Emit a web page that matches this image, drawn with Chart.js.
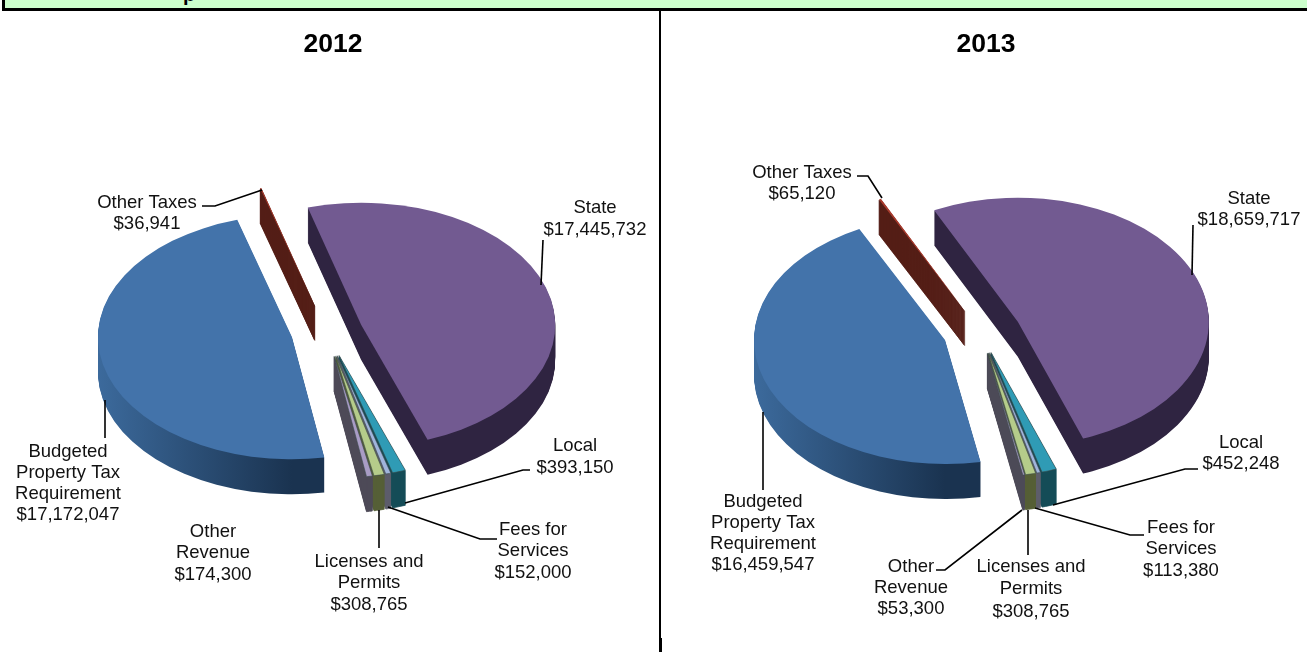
<!DOCTYPE html>
<html><head><meta charset="utf-8">
<script src="https://cdn.jsdelivr.net/npm/chart.js@4"></script>
<style>
html,body{margin:0;padding:0;background:#fff;overflow:hidden;width:1307px;height:652px}
.abs{position:absolute}
canvas{position:absolute;top:0}
</style></head><body>
<div class="abs" style="left:2px;top:-3px;width:1305px;height:11px;background:#ccffcc;border-left:3px solid #000;border-bottom:3px solid #000;box-sizing:content-box;overflow:hidden">
  <div class="abs" style="left:178px;top:-14px;font:bold 20px 'Liberation Sans';color:#000">p</div>
</div>
<div class="abs" style="left:659px;top:10px;width:2px;height:628px;background:#000"></div>
<div class="abs" style="left:659px;top:638px;width:3px;height:14px;background:#000"></div>
<div class="abs" style="left:0;top:0;width:659px;height:652px"><canvas id="c2012" style="left:0"></canvas></div>
<div class="abs" style="left:662px;top:0;width:645px;height:652px"><canvas id="c2013" style="left:0"></canvas></div>
<script>
const categories = ['State','Local','Fees for Services','Licenses and Permits','Other Revenue','Budgeted Property Tax Requirement','Other Taxes'];
const values2012 = [17445732,393150,152000,308765,174300,17172047,36941];
const values2013 = [18659717,452248,113380,308765,53300,16459547,65120];
const topColors  = ['#725a91','#2f9bb5','#a0b4dc','#b5cc8a','#a99cc5','#4373aa','#a83a2c'];
const wallLeft   = ['#2f2441','#154c57','#5d5d6b','#555f36','#4d4a58','#3c6a9c','#541d16'];
const wallRight  = ['#2f2441','#154c57','#5d5d6b','#555f36','#4d4a58','#1a3350','#541d16'];
const explode2012 = [36,39,39,39,39,36,44];
const explode2013 = [40,33,33,33,33,38,37];

/* text: [lines, centre x, first line middle y, line step] ; leaders: polyline points, page px */
const labels2012 = [
 [['Other Taxes','$36,941'],147,202.5,21],
 [['State','$17,445,732'],595,207.5,22],
 [['Local','$393,150'],575,445.5,22],
 [['Fees for','Services','$152,000'],533,529.5,21.5],
 [['Licenses and','Permits','$308,765'],369,561.5,21.5],
 [['Other','Revenue','$174,300'],213,531.5,21.5],
 [['Budgeted','Property Tax','Requirement','$17,172,047'],68,451.5,21]
];
const leaders2012 = [
 [[202,206],[215,206],[262,190]],
 [[543,240],[541,285]],
 [[530,470],[523,470],[405,503]],
 [[497,539],[480,539],[388,507]],
 [[379,510],[379,548]],
 [[105,400],[105,438]]
];
const labels2013 = [
 [['Other Taxes','$65,120'],802,172.5,21],
 [['State','$18,659,717'],1249,198.5,21],
 [['Local','$452,248'],1241,442.5,21],
 [['Fees for','Services','$113,380'],1181,527.5,21.5],
 [['Licenses and','Permits','$308,765'],1031,566.5,22.5],
 [['Other','Revenue','$53,300'],911,566.5,21],
 [['Budgeted','Property Tax','Requirement','$16,459,547'],763,501.5,21.3]
];
const leaders2013 = [
 [[857,176],[868,176],[882,198]],
 [[1193,225],[1192,275]],
 [[1198,469],[1185,469],[1053,505]],
 [[1144,535],[1130,535],[1035,508]],
 [[1028,510],[1028,555]],
 [[936,570],[945,570],[1022,510]],
 [[763,412],[763,490]]
];

const DEPTH = 35;

function makePie(id, pageLeft, width, year, titleX, values, rotation, radius, aspect, padRight, padTop, explode, labels, leaders){
  const solidPlugin = {
    id:'pie3d',
    beforeDatasetDraw(chart, args){
      const ctx = chart.ctx, arcs = args.meta.data;
      const cx = arcs[0].x, cy = arcs[0].y;
      const place = (el,i,dy)=>{
        const mid = (el.startAngle+el.endAngle)/2;
        ctx.translate(Math.cos(mid)*explode[i], dy + Math.sin(mid)*explode[i]*aspect);
        ctx.translate(cx,cy); ctx.scale(1,aspect); ctx.translate(-cx,-cy);
      };
      const paint = (el,fill,bw,bc)=>{
        const saved = el.options;
        el.options = Object.assign({},saved,{backgroundColor:fill,borderWidth:bw,borderColor:bc,offset:0,spacing:0});
        el.draw(ctx);
        el.options = saved;
      };
      const grads = arcs.map((el,i)=>{
        const g = ctx.createLinearGradient(cx-radius,0,cx,0);
        g.addColorStop(0,wallLeft[i]); g.addColorStop(1,wallRight[i]);
        return g;
      });
      for(let k=DEPTH;k>=1;k-=1){
        arcs.forEach((el,i)=>{
          ctx.save(); place(el,i,k);
          const narrow = i>=1 && i<=4 || i===6;
          paint(el,grads[i],narrow?1:0,wallLeft[i]);
          ctx.restore();
        });
      }
      arcs.forEach((el,i)=>{
        ctx.save(); place(el,i,0);
        const thin = i>=1 && i<=4;
        paint(el,topColors[i],thin?0.7:0,'#3a4a4a');
        ctx.restore();
      });
      return false;
    },
    afterDraw(chart){
      const ctx = chart.ctx;
      ctx.save();
      ctx.fillStyle='#000'; ctx.textAlign='center'; ctx.textBaseline='middle';
      ctx.font="bold 26.5px 'Liberation Sans'";
      ctx.fillText(year,titleX-pageLeft,45);
      ctx.fillStyle='#111';
      ctx.font="18.5px 'Liberation Sans'";
      labels.forEach(([lines,x,y,step])=>lines.forEach((t,i)=>ctx.fillText(t,x-pageLeft,y+i*step)));
      ctx.strokeStyle='#000'; ctx.lineWidth=1.6;
      leaders.forEach(pts=>{
        ctx.beginPath();
        pts.forEach(([x,y],i)=> i?ctx.lineTo(x-pageLeft,y):ctx.moveTo(x-pageLeft,y));
        ctx.stroke();
      });
      ctx.restore();
    }
  };
  const canvas = document.getElementById(id);
  canvas.width = width; canvas.height = 652;
  canvas.style.width = width+'px'; canvas.style.height = '652px';
  return new Chart(canvas,{
    type:'pie',
    data:{labels:categories,datasets:[{data:values,backgroundColor:topColors,borderWidth:0,clip:false}]},
    options:{
      responsive:false,animation:false,rotation,radius,
      layout:{padding:{left:0,right:padRight,top:padTop,bottom:0}},
      plugins:{legend:{display:false},tooltip:{enabled:false},title:{display:false}},
      events:[]
    },
    plugins:[solidPlugin]
  });
}
makePie('c2012',0,659,'2012',333,values2012,-16,194,0.63,5,12,explode2012,labels2012,leaders2012);
makePie('c2013',662,645,'2013',986,values2013,-26,191,0.65,7,12,explode2013,labels2013,leaders2013);
</script>
</body></html>
